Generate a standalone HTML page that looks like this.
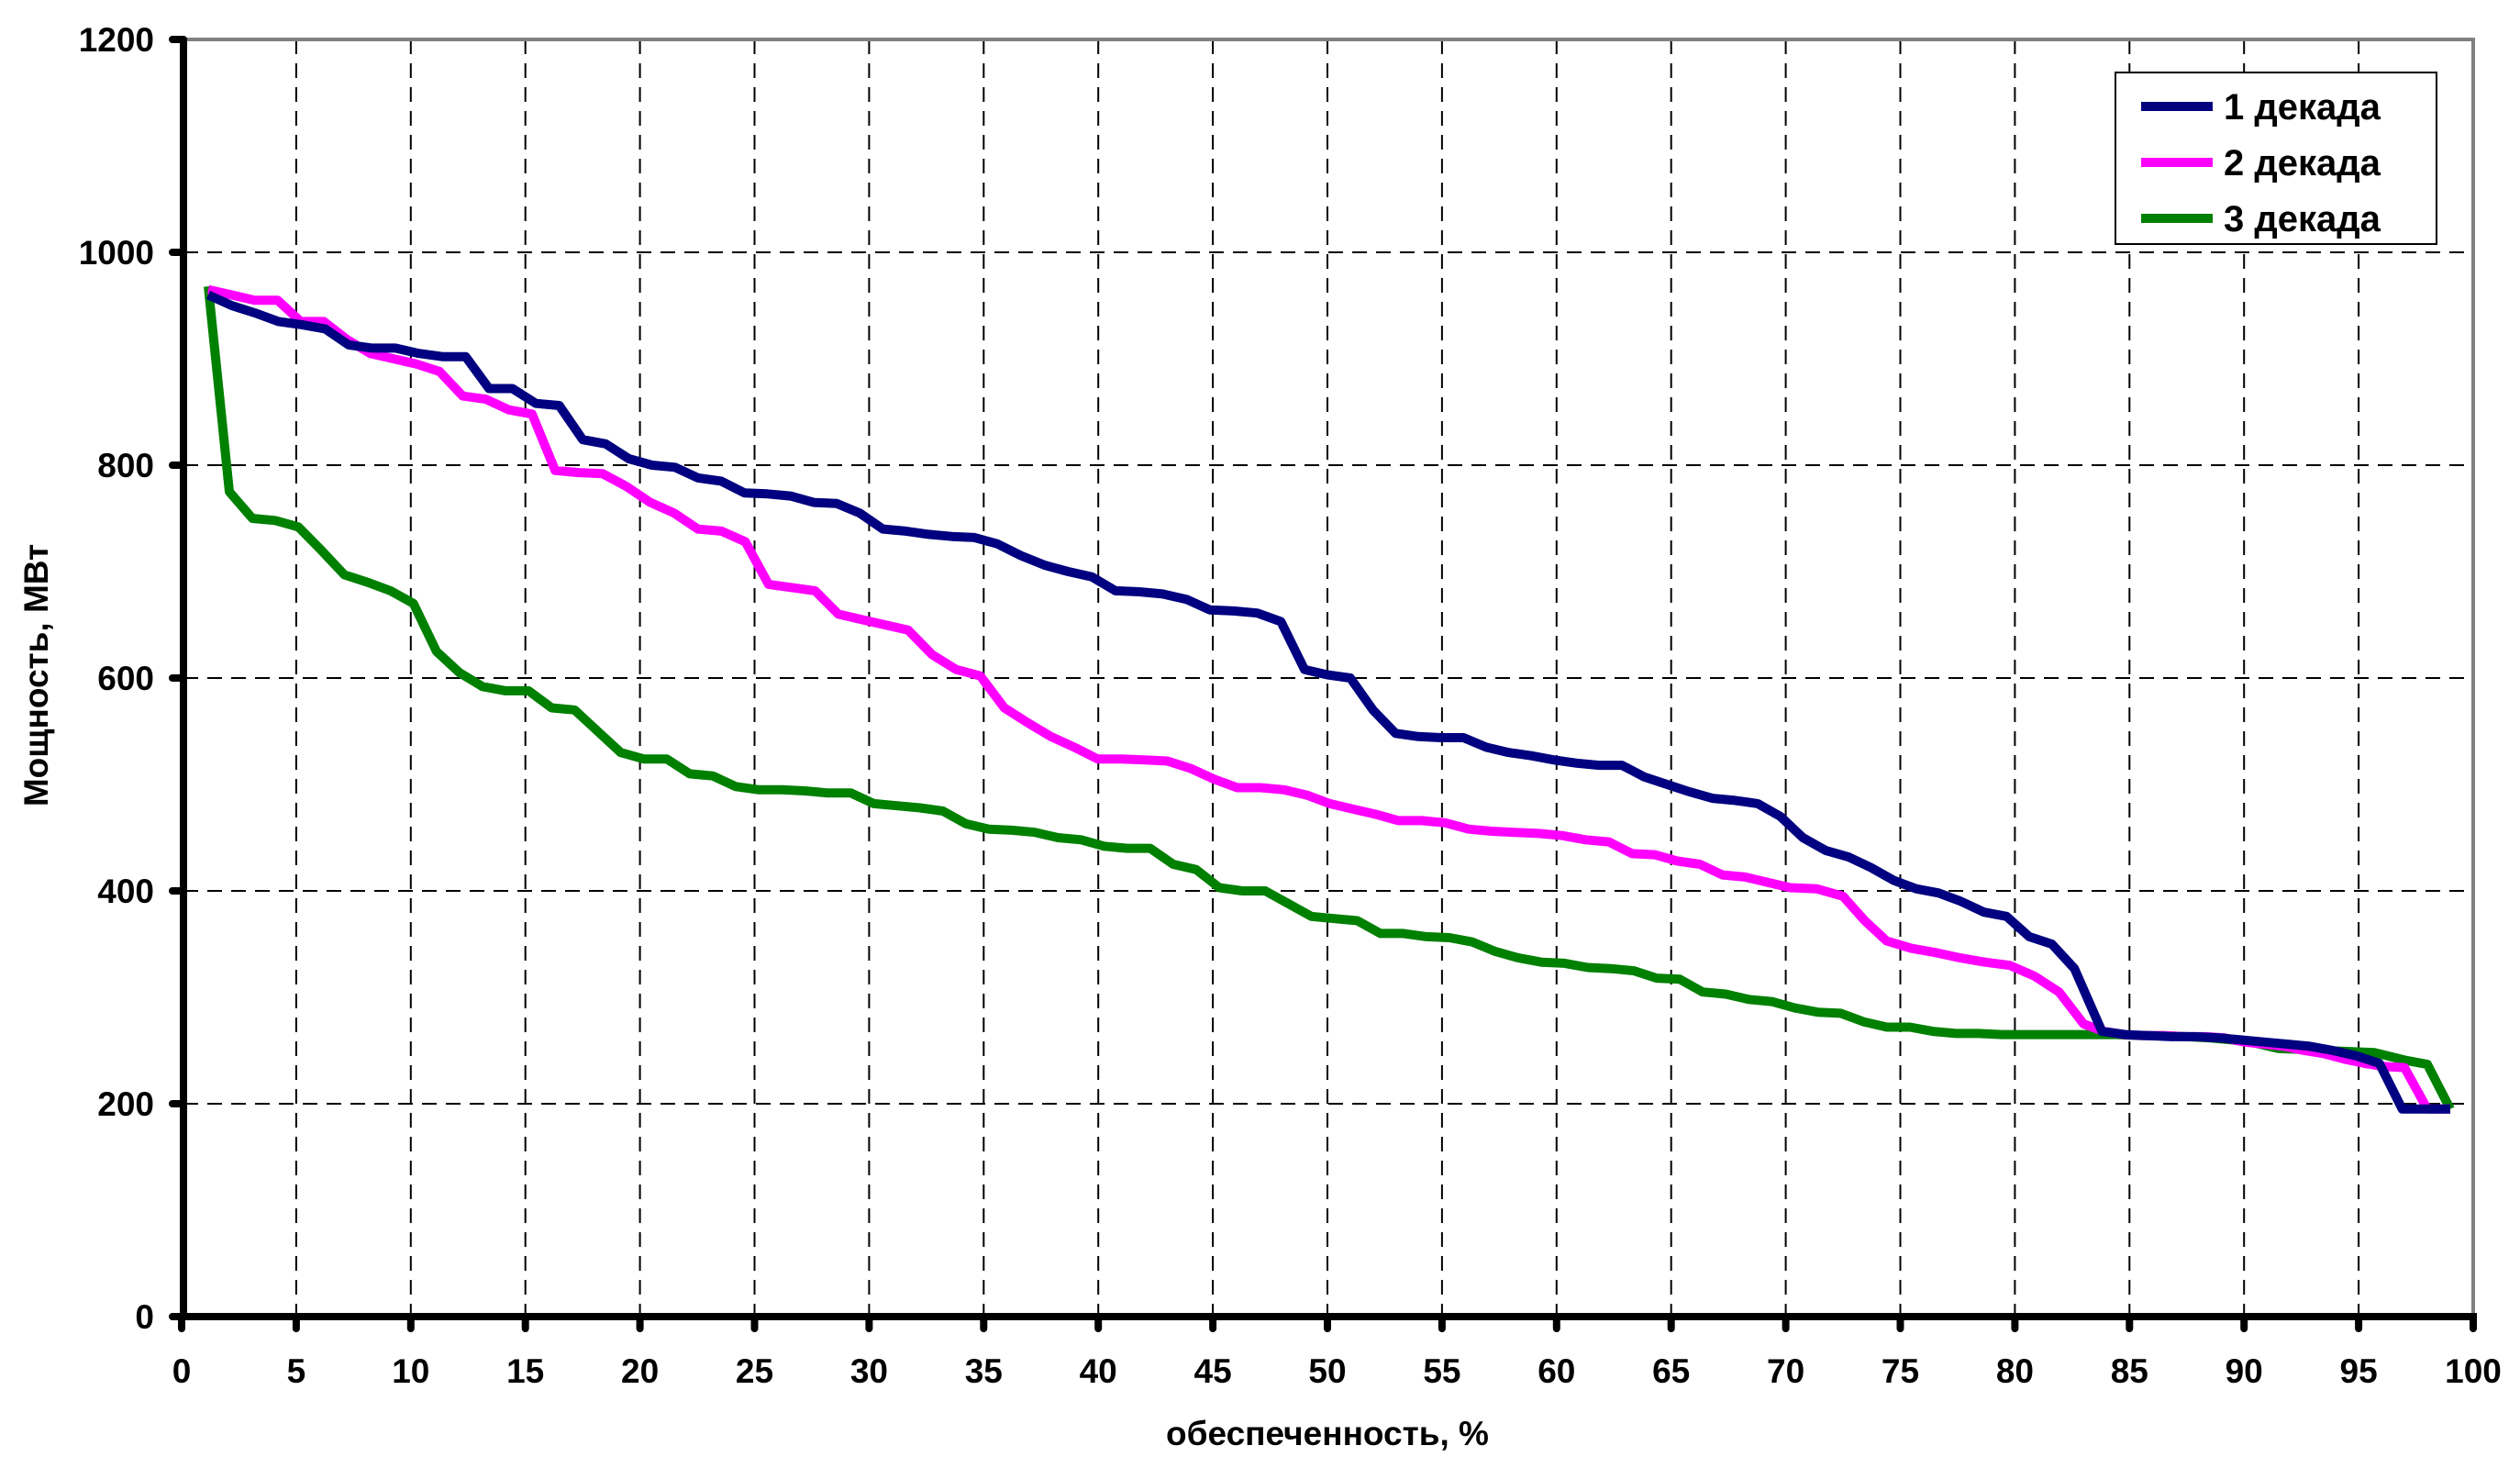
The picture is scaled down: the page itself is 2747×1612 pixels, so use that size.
<!DOCTYPE html>
<html><head><meta charset="utf-8"><style>
html,body{margin:0;padding:0;background:#fff;}
svg{display:block;font-family:"Liberation Sans",Arial,sans-serif;font-weight:bold;}
</style></head><body>
<svg id="c" width="2747" height="1612" xmlns="http://www.w3.org/2000/svg"></svg>
<script>
const X0=198,XS=24.98,Y0=1435,YS=(1435-43)/1200;
const fx=v=>X0+v*XS, fy=v=>Y0-v*YS;
let s='';
for(let i=1;i<20;i++){const x=fx(i*5);s+=`<line x1="${x}" y1="43" x2="${x}" y2="1435" stroke="#000" stroke-width="2" stroke-dasharray="16,10"/>`;}
for(let v=200;v<1200;v+=200){const y=fy(v);s+=`<line x1="200" y1="${y}" x2="2696" y2="${y}" stroke="#000" stroke-width="2" stroke-dasharray="16,10"/>`;}
s+=`<polyline points="200,43 2696,43 2696,1435" fill="none" stroke="#808080" stroke-width="4"/>`;
s+=`<line x1="200" y1="43" x2="200" y2="1439" stroke="#000" stroke-width="8"/>`;
s+=`<line x1="196" y1="1435" x2="2700" y2="1435" stroke="#000" stroke-width="8"/>`;
for(let v=0;v<=1200;v+=200){const y=fy(v);s+=`<line x1="188" y1="${y}" x2="200" y2="${y}" stroke="#000" stroke-width="8" stroke-linecap="round"/><text x="168" y="${y+13}" font-size="37" text-anchor="end">${v}</text>`;}
for(let i=0;i<=20;i++){const x=fx(i*5);s+=`<line x1="${x}" y1="1435" x2="${x}" y2="1448" stroke="#000" stroke-width="8" stroke-linecap="round"/><text x="${x}" y="1507" font-size="37" text-anchor="middle">${i*5}</text>`;}
s+=`<text x="1447" y="1575" font-size="37" text-anchor="middle">обеспеченность, %</text>`;
s+=`<text transform="translate(52,736) rotate(-90)" font-size="37" text-anchor="middle">Мощность, МВт</text>`;
const blue=[960,950,943,935,932,928,913,910,910,905,902,902,872,872,858,856,824,820,806,800,798,788,785,774,773,771,765,764,755,740,738,735,733,732,726,715,706,700,695,682,681,679,674,664,663,661,653,608,603,600,570,548,545,544,544,535,530,527,523,520,518,518,507,500,493,487,485,482,470,450,438,432,422,410,402,398,390,380,376,357,350,327,268,265,264,263,263,262,260,258,256,254,250,245,238];
const mag=[965,960,955,955,935,935,918,905,900,895,888,865,862,852,848,795,793,792,780,765,755,740,738,728,688,685,682,660,655,650,645,622,608,602,572,558,545,535,524,524,523,522,515,505,497,497,495,490,482,477,472,466,466,464,458,456,455,454,452,448,446,435,434,428,425,415,413,408,403,402,395,372,353,346,342,337,333,330,320,305,275,268,265,264,264,263,263,262,258,256,254,250,247,242,238,235,234];
const grn=[968,775,750,748,742,720,697,690,682,670,625,605,592,588,588,572,570,550,530,524,524,510,508,498,495,495,494,492,492,482,480,478,475,463,458,457,455,450,448,442,440,440,425,420,403,400,400,388,376,374,372,360,360,357,356,352,343,337,333,332,328,327,325,318,317,305,303,298,296,290,286,285,277,272,272,268,266,266,265,265,265,265,265,265,264,264,263,262,260,257,252,251,250];
function mapX(x,a){for(let k=0;k<a.length-1;k++){if(x<=a[k+1][0]||k==a.length-2){const [x1,y1]=a[k],[x2,y2]=a[k+1];return y1+(x-x1)*(y2-y1)/(x2-x1);}}}
function pts(d,a,extra){const p=d.map((v,i)=>[mapX(i+1,a),v]).concat(extra);return p.map(q=>fx(q[0]).toFixed(1)+','+fy(q[1]).toFixed(1)).join(' ');}
const line=(p,c)=>`<polyline points="${p}" fill="none" stroke="${c}" stroke-width="10" stroke-linejoin="round"/>`;
const aB=[[1,1.16],[17,17.5],[30,30.6],[35,35.6],[48,49],[50,51],[82,82.6],[83,83.8],[95,95.9]];
const aM=[[1,1.16],[16,16.3],[24,24.6],[31,31.7],[35,35.9],[47,48.1],[52,53.1],[62,63.3],[69,70.2],[71,72.5],[73,74.4],[81,83],[97,97]];
const aG=[[1,1.16],[2,2.08],[93,93.5]];
s+=line(pts(grn,aG,[[95.7,248],[97,241],[98,237],[99,195]]),'#008000');
s+=line(pts(mag,aM,[[98,195],[99,195]]),'#ff00ff');
s+=line(pts(blue,aB,[[96.9,195],[99,195]]),'#000080');
s+=`<rect x="2306" y="79" width="350" height="187" fill="#fff" stroke="#000" stroke-width="2"/>`;
[['1 декада','#000080',116],['2 декада','#ff00ff',177],['3 декада','#008000',238]].forEach(([t,c,y])=>{
s+=`<line x1="2334" y1="${y}" x2="2412" y2="${y}" stroke="${c}" stroke-width="10"/><text x="2424" y="${y+14}" font-size="40">${t}</text>`;});
document.getElementById('c').innerHTML=s;
</script>
</body></html>
